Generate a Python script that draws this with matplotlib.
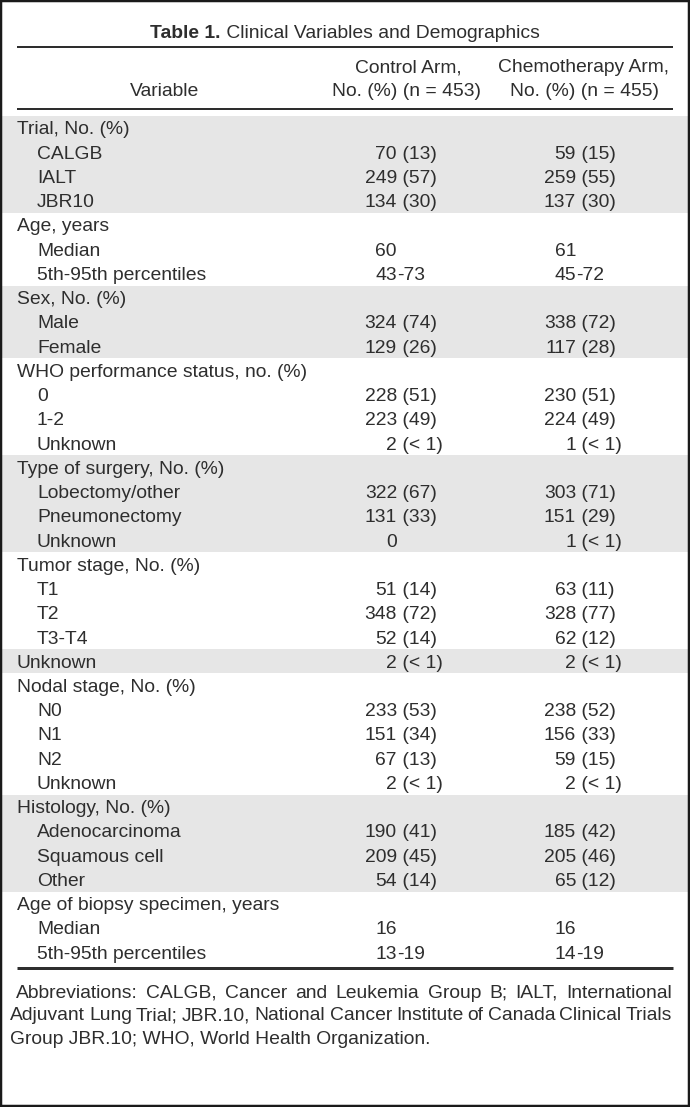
import matplotlib
matplotlib.use("Agg")
import matplotlib.pyplot as plt
from matplotlib.patches import Rectangle

# ---------------- data ----------------
title_bold = "Table 1."
title_rest = " Clinical Variables and Demographics"
col_header_variable = "Variable"
col_header_control = ["Control Arm,", "No. (%) (n = 453)"]
col_header_chemo = ["Chemotherapy Arm,", "No. (%) (n = 455)"]

row_labels = [
    "Trial, No. (%)", "CALGB", "IALT", "JBR10",
    "Age, years", "Median", "5th-95th percentiles",
    "Sex, No. (%)", "Male", "Female",
    "WHO performance status, no. (%)", "0", "1-2", "Unknown",
    "Type of surgery, No. (%)", "Lobectomy/other", "Pneumonectomy", "Unknown",
    "Tumor stage, No. (%)", "T1", "T2", "T3-T4",
    "Unknown",
    "Nodal stage, No. (%)", "N0", "N1", "N2", "Unknown",
    "Histology, No. (%)", "Adenocarcinoma", "Squamous cell", "Other",
    "Age of biopsy specimen, years", "Median", "5th-95th percentiles",
]
row_indented = [
    0, 1, 1, 1,
    0, 1, 1,
    0, 1, 1,
    0, 1, 1, 1,
    0, 1, 1, 1,
    0, 1, 1, 1,
    0,
    0, 1, 1, 1, 1,
    0, 1, 1, 1,
    0, 1, 1,
]
control_vals = [
    "", "70 (13)", "249 (57)", "134 (30)",
    "", "60", "43-73",
    "", "324 (74)", "129 (26)",
    "", "228 (51)", "223 (49)", "2 (< 1)",
    "", "322 (67)", "131 (33)", "0",
    "", "51 (14)", "348 (72)", "52 (14)",
    "2 (< 1)",
    "", "233 (53)", "151 (34)", "67 (13)", "2 (< 1)",
    "", "190 (41)", "209 (45)", "54 (14)",
    "", "16", "13-19",
]
chemo_vals = [
    "", "59 (15)", "259 (55)", "137 (30)",
    "", "61", "45-72",
    "", "338 (72)", "117 (28)",
    "", "230 (51)", "224 (49)", "1 (< 1)",
    "", "303 (71)", "151 (29)", "1 (< 1)",
    "", "63 (11)", "328 (77)", "62 (12)",
    "2 (< 1)",
    "", "238 (52)", "156 (33)", "59 (15)", "2 (< 1)",
    "", "185 (42)", "205 (46)", "65 (12)",
    "", "16", "14-19",
]
group_starts = [0, 4, 7, 10, 14, 18, 22, 23, 28, 32]

footnote_lines = [
    "Abbreviations: CALGB, Cancer and Leukemia Group B; IALT, International",
    "Adjuvant Lung Trial; JBR.10, National Cancer Institute of Canada Clinical Trials",
    "Group JBR.10; WHO, World Health Organization.",
]

# ---------------- style ----------------
W, H = 690, 1107
FONT = ["Liberation Sans", "DejaVu Sans"]
FS = 13.9
TC = "#2e2e2e"
SHADE = "#e6e6e6"
PX = 0.72  # points per pixel at dpi 100

fig = plt.figure(figsize=(W / 100, H / 100), dpi=100)
ax = fig.add_axes([0, 0, 1, 1])
ax.set_xlim(0, W)
ax.set_ylim(H, 0)
ax.axis("off")
renderer = fig.canvas.get_renderer()

def txt(x, y, s, ha="left", weight="normal", size=FS):
    return ax.text(x, y, s, ha=ha, va="baseline", fontsize=size, family=FONT,
                   color=TC, fontweight=weight)

def width(t):
    return t.get_window_extent(renderer=renderer).width

BASE = 6.5
y_first, pitch = 128.0, 24.24
row_y = [y_first + i * pitch for i in range(len(row_labels))]

# shading bands
ends = group_starts[1:] + [len(row_labels)]
for g, (s, e) in enumerate(zip(group_starts, ends)):
    if g % 2 == 0:
        top = row_y[s] - pitch / 2
        ax.add_patch(Rectangle((2, top), 686, (e - s) * pitch, color=SHADE, lw=0, zorder=0))

# rules
ax.hlines(47, 17, 673, color=TC, lw=2 * PX)
ax.hlines(108.5, 17, 673, color=TC, lw=2 * PX)
ax.hlines(968, 17, 673, color=TC, lw=3 * PX)

# outer frame
ax.add_patch(Rectangle((1, 1), W - 2.5, H - 2.5, fill=False, ec="#1a1a1a", lw=2.5 * PX, zorder=5))

# title
tb = txt(0, 31 + BASE, title_bold, weight="bold")
tr = txt(0, 31 + BASE, title_rest)
wb, wr = width(tb), width(tr)
x0 = W / 2 - (wb + wr) / 2
tb.set_x(x0)
tr.set_x(x0 + wb)

# column headers
txt(165, 90 + BASE, col_header_variable, ha="center")
txt(408, 66 + BASE, col_header_control[0], ha="center")
txt(406, 90 + BASE, col_header_control[1], ha="center")
txt(584, 66 + BASE, col_header_chemo[0], ha="center")
txt(584, 90 + BASE, col_header_chemo[1], ha="center")

def split_val(v):
    for i, ch in enumerate(v):
        if ch in " -":
            return v[:i], v[i:]
    return v, ""

X_CTRL, X_CHEMO = 397, 576
for i, lab in enumerate(row_labels):
    yb = row_y[i] + BASE
    txt(37 if row_indented[i] else 17, yb, lab)
    for xv, v in ((X_CTRL, control_vals[i]), (X_CHEMO, chemo_vals[i])):
        if not v:
            continue
        a, b = split_val(v)
        txt(xv, yb, a, ha="right")
        if b:
            txt(xv, yb, b, ha="left")

# justified footnote
foot_y = [991, 1014, 1037]
foot_left = [16, 10, 10]
foot_right = 672
for li, line in enumerate(footnote_lines):
    words = line.split(" ")
    yb = foot_y[li] + BASE
    if li < len(footnote_lines) - 1:
        ts = [txt(0, yb, w) for w in words]
        ws = [width(t) for t in ts]
        gap = (foot_right - foot_left[li] - sum(ws)) / (len(words) - 1)
        x = foot_left[li]
        for t, w in zip(ts, ws):
            t.set_x(x)
            x += w + gap
    else:
        txt(foot_left[li], yb, line)

fig.savefig("out.png", dpi=100)
